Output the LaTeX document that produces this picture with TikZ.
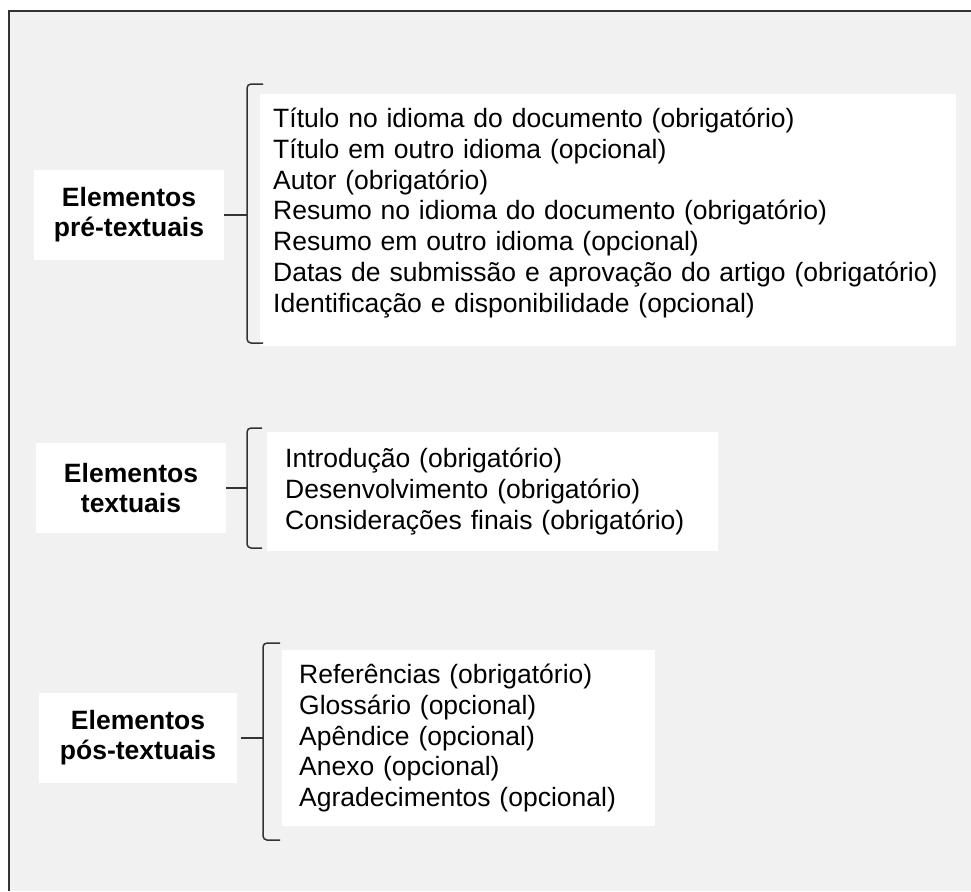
\documentclass[tikz,border=0pt]{standalone}
\usepackage{fontspec}
\setmainfont{Liberation Sans}
\definecolor{fundo}{HTML}{F1F1F1}
\definecolor{traco}{HTML}{333333}
\begin{document}
\begin{tikzpicture}[x=1pt,y=-1pt,
    rotulo/.style={fill=white,align=center,inner sep=0pt,minimum height=90pt,
        font=\fontsize{26.5}{30}\selectfont\bfseries},
    lista/.style={fill=white,align=left,anchor=north west,inner sep=0pt,
        font=\fontsize{26.5}{30.7}\selectfont},
    chave/.style={draw=traco,line width=1.5pt,rounded corners=4pt},
    ponta/.style={draw=traco,line width=1.5pt}]
\useasboundingbox (0,0) rectangle (971,891);
\fill[fundo] (9,11) rectangle (971,891);
\draw[traco,line width=2pt] (9,891) -- (9,11) -- (971,11);

\node[rotulo,minimum width=190pt] (pre) at (129,215) {Elementos\\pré-textuais};
\node[rotulo,minimum width=190pt] (txt) at (131,488) {Elementos\\textuais};
\node[rotulo,minimum width=198pt] (pos) at (138,738) {Elementos\\pós-textuais};

\node[lista,text width=670pt,minimum width=696pt,minimum height=252pt] (listapre) at (260,94)
    {Título no idioma do documento (obrigatório)\\
     Título em outro idioma (opcional)\\
     Autor (obrigatório)\\
     Resumo no idioma do documento (obrigatório)\\
     Resumo em outro idioma (opcional)\\
     Datas de submissão e aprovação do artigo (obrigatório)\\
     Identificação e disponibilidade (opcional)\rule[-20pt]{0pt}{0pt}};
\node[lista,text width=415pt,minimum width=451pt,minimum height=119pt] (listatxt) at (267,432)
    {Introdução (obrigatório)\\
     Desenvolvimento (obrigatório)\\
     Considerações finais (obrigatório)};
\node[lista,text width=339pt,minimum width=373pt,minimum height=176pt] (listapos) at (282,650)
    {Referências (obrigatório)\\
     Glossário (opcional)\\
     Apêndice (opcional)\\
     Anexo (opcional)\\
     Agradecimentos (opcional)};

\coordinate (c1) at (247,215);
\coordinate (c2) at (247,488);
\coordinate (c3) at (263,738);
\draw[chave] (263,84) -- (247,84) -- (247,343) -- (263,343);
\draw[chave] (262,428) -- (247,428) -- (247,548) -- (262,548);
\draw[chave] (280,643) -- (263,643) -- (263,840) -- (280,840);
\draw[ponta] (pre.east) -- (c1);
\draw[ponta] (txt.east) -- (c2);
\draw[ponta] (pos.east) ++(4,0) -- (c3);
\end{tikzpicture}
\end{document}
